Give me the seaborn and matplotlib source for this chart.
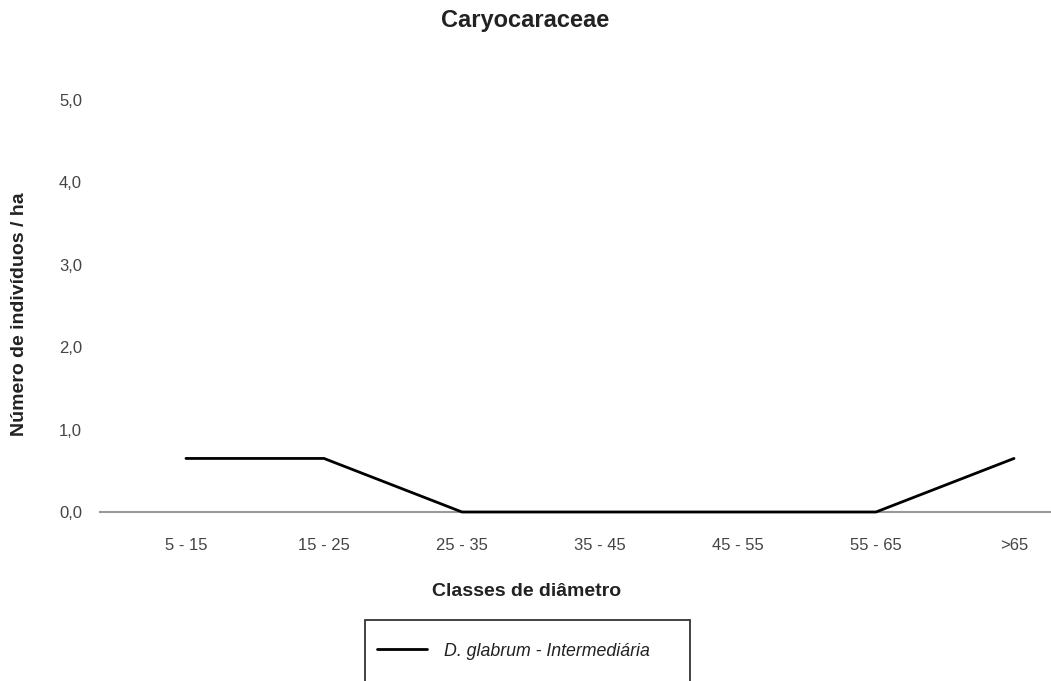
import matplotlib.pyplot as plt
import seaborn as sns
import pandas as pd
from matplotlib.patches import Rectangle

# data
classes = ["5 - 15", "15 - 25", "25 - 35", "35 - 45", "45 - 55", "55 - 65", ">65"]
individuos = [0.65, 0.65, 0.0, 0.0, 0.0, 0.0, 0.65]
serie = "D. glabrum - Intermediária"

df = pd.DataFrame({"classe": classes, "valor": individuos})

sns.set_style("white")
plt.rcParams["font.family"] = ["Liberation Sans", "DejaVu Sans"]

fig = plt.figure(figsize=(10.51, 6.81), dpi=100)
ax = fig.add_axes([100 / 1051, 169 / 681, 951 / 1051, 412 / 681])

sns.lineplot(data=df, x="classe", y="valor", sort=False, color="black",
             linewidth=2, label=serie, ax=ax, legend=False)
ax.lines[0].set_clip_on(False)
ax.lines[0].set_zorder(3)

ax.set_xlim(-0.623, 6.268)
ax.set_ylim(0, 5)
ax.set_yticks([0, 1, 2, 3, 4, 5])
ax.set_yticklabels(["0,0", "1,0", "2,0", "3,0", "4,0", "5,0"])
ax.tick_params(axis="both", length=0, labelsize=12, colors="#444444")
ax.tick_params(axis="x", pad=19)
ax.tick_params(axis="y", pad=13)

for s in ["top", "right", "left"]:
    ax.spines[s].set_visible(False)
ax.spines["bottom"].set_color("#999999")
ax.spines["bottom"].set_linewidth(1.5)

ax.set_xlabel("Classes de diâmetro", fontsize=14, fontweight="bold", color="#222222")
ax.xaxis.label.set_va("center")
ax.xaxis.set_label_coords(0.449, -79 / 412)
ax.set_ylabel("Número de indivíduos / ha", fontsize=14, fontweight="bold", color="#222222")
ax.yaxis.label.set_va("center")
ax.yaxis.set_label_coords(-80 / 951, 0.48)
fig.text(0.5, 1 - 21 / 681, "Caryocaraceae", ha="center", va="center",
         fontsize=17, fontweight="bold", color="#222222")

# legend box, cut by the bottom edge like the original
fig.patches.append(Rectangle((365 / 1051, -10 / 681), 325 / 1051, 71 / 681,
                             transform=fig.transFigure, fill=False,
                             edgecolor="#333333", linewidth=1.3))
handles = ax.lines[:1]
leg = fig.legend(handles, [serie], loc="center left",
                 bbox_to_anchor=(372 / 1051, 1 - 651 / 681), borderaxespad=0,
                 frameon=False, borderpad=0.3, handlelength=2.8,
                 handletextpad=0.95, fontsize=12.8)
for t in leg.get_texts():
    t.set_fontstyle("italic")
    t.set_color("#222222")

fig.savefig("out.png", dpi=100)
